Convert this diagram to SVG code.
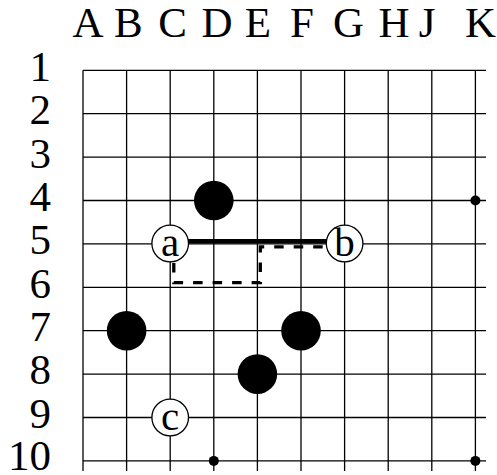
<svg xmlns="http://www.w3.org/2000/svg" width="497" height="475" viewBox="0 0 497 475">
<style>
.lbl{font-family:"Liberation Serif","Times New Roman",serif;font-size:43px;fill:#000}
.col{text-anchor:middle}
.row{text-anchor:end}
.grid line{stroke:#000;stroke-width:1.3}
.black{fill:#000}
.white{fill:#fff;stroke:#000;stroke-width:1.3}
.mark{font-family:"Liberation Serif","Times New Roman",serif;font-size:41px;text-anchor:middle;fill:#000}
.hoshi{fill:#000}
</style>
<rect width="497" height="475" fill="#fff"/>
<g id="col-labels" class="lbl col">
<text x="88" y="37">A</text>
<text x="128.3" y="37">B</text>
<text x="172.5" y="37">C</text>
<text x="217" y="37">D</text>
<text x="258" y="37">E</text>
<text x="302" y="37">F</text>
<text x="348.5" y="37">G</text>
<text x="394" y="37">H</text>
<text x="427" y="37">J</text>
<text x="480.5" y="37">K</text>
</g>
<g id="row-labels" class="lbl row">
<text x="51" y="81">1</text>
<text x="51" y="124">2</text>
<text x="51" y="167.5">3</text>
<text x="51" y="211">4</text>
<text x="51" y="254">5</text>
<text x="51" y="297.5">6</text>
<text x="51" y="341">7</text>
<text x="51" y="384">8</text>
<text x="51" y="427.5">9</text>
<text x="51" y="469.5">10</text>
</g>
<g id="grid" class="grid">
<line x1="83" y1="70.3" x2="486" y2="70.3"/>
<line x1="83" y1="113.7" x2="486" y2="113.7"/>
<line x1="83" y1="157.1" x2="486" y2="157.1"/>
<line x1="83" y1="200.5" x2="486" y2="200.5"/>
<line x1="83" y1="243.9" x2="486" y2="243.9"/>
<line x1="83" y1="287.3" x2="486" y2="287.3"/>
<line x1="83" y1="330.7" x2="486" y2="330.7"/>
<line x1="83" y1="374.1" x2="486" y2="374.1"/>
<line x1="83" y1="417.5" x2="486" y2="417.5"/>
<line x1="83" y1="460.9" x2="486" y2="460.9"/>
<line x1="83" y1="70.3" x2="83" y2="471"/>
<line x1="126.6" y1="70.3" x2="126.6" y2="471"/>
<line x1="170.2" y1="70.3" x2="170.2" y2="471"/>
<line x1="213.8" y1="70.3" x2="213.8" y2="471"/>
<line x1="257.4" y1="70.3" x2="257.4" y2="471"/>
<line x1="301" y1="70.3" x2="301" y2="471"/>
<line x1="344.6" y1="70.3" x2="344.6" y2="471"/>
<line x1="388.2" y1="70.3" x2="388.2" y2="471"/>
<line x1="431.8" y1="70.3" x2="431.8" y2="471"/>
<line x1="475.4" y1="70.3" x2="475.4" y2="471"/>
</g>
<g id="hoshi">
<circle class="hoshi" cx="475.4" cy="200.5" r="5"/>
<circle class="hoshi" cx="213.8" cy="460.9" r="5"/>
<circle class="hoshi" cx="475.4" cy="460.9" r="5"/>
</g>
<g id="connectors">
<line x1="188" y1="241.2" x2="327" y2="241.2" stroke="#000" stroke-width="4.5"/>
<path d="M173.8 262 V282.7 H260.3 V246.8 H327" fill="none" stroke="#000" stroke-width="3.3" stroke-dasharray="9.5 10" stroke-dashoffset="-1"/>
</g>
<g id="stone-D4"><circle class="black" cx="213.8" cy="200.5" r="19.8"/></g>
<g id="stone-B7"><circle class="black" cx="126.6" cy="330.7" r="19.8"/></g>
<g id="stone-F7"><circle class="black" cx="301" cy="330.7" r="19.8"/></g>
<g id="stone-E8"><circle class="black" cx="257.4" cy="374.1" r="19.8"/></g>
<g id="stone-a"><circle class="white" cx="170.2" cy="243.5" r="18.3"/><text class="mark" x="170.2" y="256">a</text></g>
<g id="stone-b"><circle class="white" cx="344.6" cy="243.5" r="18.3"/><text class="mark" x="344.6" y="256">b</text></g>
<g id="stone-c"><circle class="white" cx="170.2" cy="417.5" r="18.3"/><text class="mark" x="170.2" y="430">c</text></g>
</svg>
